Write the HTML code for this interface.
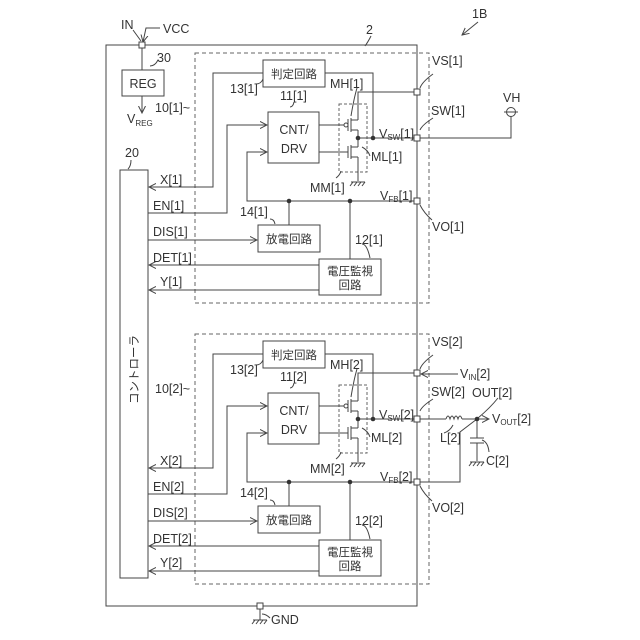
<!DOCTYPE html>
<html><head><meta charset="utf-8"><style>
body{margin:0;background:#fff}
svg{display:block}
text{font-family:"Liberation Sans","Noto Sans CJK JP",sans-serif;font-size:12.5px;fill:#333}
.j{font-size:11.5px}
</style></head><body>
<svg width="640" height="640" viewBox="0 0 640 640" xmlns="http://www.w3.org/2000/svg">
<defs>
<marker id="a" markerWidth="8" markerHeight="8" refX="7" refY="4" orient="auto" markerUnits="userSpaceOnUse">
<path d="M0,0.5 L7,4 L0,7.5" fill="none" stroke="#444" stroke-width="1"/></marker>
<g id="gnd" stroke="#444" stroke-width="1" fill="none">
<line x1="-7" y1="0" x2="7" y2="0"/><line x1="-5" y1="0" x2="-8" y2="4"/><line x1="-1" y1="0" x2="-4" y2="4"/><line x1="3" y1="0" x2="0" y2="4"/><line x1="7" y1="0" x2="4" y2="4"/></g>
<g id="blk">
<rect x="195" y="53" width="234" height="250" fill="none" stroke="#666" stroke-dasharray="4,3"/>
<rect x="263" y="60" width="62" height="27" fill="#fff" stroke="#444"/>
<text class="j" x="294" y="78" text-anchor="middle">判定回路</text>
<rect x="268" y="112" width="51" height="51" fill="#fff" stroke="#444"/>
<text x="294" y="134" text-anchor="middle" font-size="13">CNT/</text>
<text x="294" y="153" text-anchor="middle" font-size="13">DRV</text>
<rect x="339" y="104" width="28" height="68" fill="none" stroke="#666" stroke-dasharray="3,2"/>
<g stroke="#444" fill="none" stroke-width="1">
<polyline points="263,73 213,73 213,187 149,187" marker-end="url(#a)"/>
<polyline points="325,73 373,73 373,138"/>
<polyline points="148,213 227,213 227,125 267,125" marker-end="url(#a)"/>
<polyline points="417,201 247,201 247,152 267,152" marker-end="url(#a)"/>
<line x1="289" y1="201" x2="289" y2="225"/>
<line x1="350" y1="201" x2="350" y2="259"/>
<line x1="148" y1="240" x2="257" y2="240" marker-end="url(#a)"/>
<line x1="319" y1="265" x2="149" y2="265" marker-end="url(#a)"/>
<line x1="319" y1="290" x2="149" y2="290" marker-end="url(#a)"/>
<line x1="319" y1="125" x2="344" y2="125"/>
<circle cx="346" cy="125" r="2"/>
<line x1="348" y1="119" x2="348" y2="131"/>
<line x1="351" y1="118" x2="351" y2="132"/>
<polyline points="351,120 358,120"/><polyline points="351,130 358,130"/>
<line x1="319" y1="152" x2="348" y2="152"/>
<line x1="348" y1="146" x2="348" y2="158"/>
<line x1="351" y1="145" x2="351" y2="159"/>
<polyline points="351,147 358,147"/><polyline points="351,157 358,157"/>
<polyline points="417,92 358,92 358,120"/>
<line x1="358" y1="130" x2="358" y2="147"/>
<line x1="358" y1="157" x2="358" y2="181"/>
<line x1="358" y1="138" x2="417" y2="138"/>
<path d="M256,84 q5,0 7,-5"/>
<path d="M290,107 q3,0 4,-5"/>
<path d="M357,88 q-3,10 -6,28"/>
<path d="M362,147 q6,3 8,9"/>
<path d="M336,178 q4,-3 5,-7"/>
<path d="M420,130 q2,-5 13,-12"/>
<path d="M420,88 q2,-6 13,-14"/>
<path d="M420,205 q4,8 12,15"/>
<path d="M270,219 q4,0 5,5"/>
<path d="M362,244 q5,0 8,14"/>
</g>
<use href="#gnd" x="358" y="182"/>
<rect x="258" y="225" width="62" height="27" fill="#fff" stroke="#444"/>
<text class="j" x="289" y="243" text-anchor="middle">放電回路</text>
<rect x="319" y="259" width="62" height="36" fill="#fff" stroke="#444"/>
<text class="j" x="350" y="275" text-anchor="middle">電圧監視</text>
<text class="j" x="350" y="289" text-anchor="middle">回路</text>
<circle cx="358" cy="138" r="2.3" fill="#333"/>
<circle cx="373" cy="138" r="2.3" fill="#333"/>
<circle cx="289" cy="201" r="2.3" fill="#333"/>
<circle cx="350" cy="201" r="2.3" fill="#333"/>
<g fill="#fff" stroke="#444"><rect x="414" y="89" width="6" height="6"/><rect x="414" y="135" width="6" height="6"/><rect x="414" y="198" width="6" height="6"/></g>
</g>
</defs>

<rect x="106" y="45" width="311" height="561" fill="none" stroke="#444"/>
<rect x="120" y="170" width="28" height="408" fill="#fff" stroke="#444"/>
<text class="j" x="0" y="0" transform="translate(138,404) rotate(-90)">コントローラ</text>
<text x="125" y="157">20</text>
<path d="M131,160 q0,6 -3,9" fill="none" stroke="#444"/>

<use href="#blk"/>
<use href="#blk" y="281"/>

<text x="230" y="93">13[1]</text><text x="280" y="100">11[1]</text>
<text x="330" y="88">MH[1]</text><text x="371" y="161">ML[1]</text>
<text x="310" y="192">MM[1]</text>
<text x="379" y="138">V<tspan font-size="8" dy="2">SW</tspan><tspan dy="-2">[1]</tspan></text>
<text x="380" y="200">V<tspan font-size="8" dy="2">FB</tspan><tspan dy="-2">[1]</tspan></text>
<text x="432" y="65">VS[1]</text><text x="431" y="115">SW[1]</text><text x="432" y="231">VO[1]</text>
<text x="240" y="216">14[1]</text><text x="355" y="244">12[1]</text>
<text x="155" y="112">10[1]~</text>
<text x="160" y="184">X[1]</text><text x="153" y="210">EN[1]</text><text x="153" y="236">DIS[1]</text>
<text x="153" y="262">DET[1]</text><text x="160" y="286">Y[1]</text>

<text x="230" y="374">13[2]</text><text x="280" y="381">11[2]</text>
<text x="330" y="369">MH[2]</text><text x="371" y="442">ML[2]</text>
<text x="310" y="473">MM[2]</text>
<text x="379" y="419">V<tspan font-size="8" dy="2">SW</tspan><tspan dy="-2">[2]</tspan></text>
<text x="380" y="481">V<tspan font-size="8" dy="2">FB</tspan><tspan dy="-2">[2]</tspan></text>
<text x="432" y="346">VS[2]</text><text x="431" y="396">SW[2]</text><text x="432" y="512">VO[2]</text>
<text x="240" y="497">14[2]</text><text x="355" y="525">12[2]</text>
<text x="155" y="393">10[2]~</text>
<text x="160" y="465">X[2]</text><text x="153" y="491">EN[2]</text><text x="153" y="517">DIS[2]</text>
<text x="153" y="543">DET[2]</text><text x="160" y="567">Y[2]</text>

<g stroke="#444" fill="none">
<line x1="142" y1="48" x2="142" y2="70"/>
<line x1="142" y1="96" x2="142" y2="113" marker-end="url(#a)"/>
<polyline points="160,28 146,28 143,42" marker-end="url(#a)"/>
<line x1="133" y1="30" x2="141" y2="41"/>
<path d="M150,66 q5,0 8,-6"/>
<path d="M365,46 q3,-4 6,-10"/>
<line x1="478" y1="22" x2="462" y2="35" marker-end="url(#a)"/>
<circle cx="511" cy="112" r="4.5"/>
<line x1="504" y1="112" x2="518" y2="112"/>
<polyline points="511,116 511,138 420,138"/>
<line x1="458" y1="374" x2="421" y2="374" marker-end="url(#a)"/>
<polyline points="420,419 446,419"/>
<path d="M446,419 q2,-6 4,0 q2,-6 4,0 q2,-6 4,0 q2,-6 4,0"/>
<line x1="462" y1="419" x2="489" y2="419" marker-end="url(#a)"/>
<line x1="477" y1="419" x2="477" y2="438"/>
<line x1="470" y1="438" x2="484" y2="438"/><line x1="470" y1="443" x2="484" y2="443"/>
<line x1="477" y1="443" x2="477" y2="461"/>
<polyline points="420,482 460,482 460,432 477,419"/>
<path d="M453,425 q-3,6 -9,8"/>
<path d="M482,440 q6,2 7,12"/>
<path d="M478,418 q12,-10 20,-20"/>
<line x1="260" y1="609" x2="260" y2="620"/>
<path d="M262,614 q4,0 8,4"/>
</g>
<use href="#gnd" x="477" y="462"/>
<use href="#gnd" x="260" y="620"/>
<circle cx="477" cy="419" r="2.3" fill="#333"/>
<g fill="#fff" stroke="#444"><rect x="139" y="42" width="6" height="6"/><rect x="257" y="603" width="6" height="6"/></g>
<rect x="122" y="70" width="42" height="26" fill="#fff" stroke="#444"/>
<text x="143" y="88" text-anchor="middle" font-size="13">REG</text>
<text x="121" y="29">IN</text><text x="163" y="33">VCC</text><text x="157" y="62">30</text>
<text x="127" y="123">V<tspan font-size="8" dy="3">REG</tspan></text>
<text x="366" y="34">2</text><text x="472" y="18">1B</text>
<text x="503" y="102">VH</text>
<text x="460" y="378">V<tspan font-size="8" dy="2">IN</tspan><tspan dy="-2">[2]</tspan></text>
<text x="472" y="397">OUT[2]</text>
<text x="492" y="423">V<tspan font-size="8" dy="2">OUT</tspan><tspan dy="-2">[2]</tspan></text>
<text x="440" y="442">L[2]</text><text x="486" y="465">C[2]</text>
<text x="271" y="624">GND</text>
</svg>
</body></html>
